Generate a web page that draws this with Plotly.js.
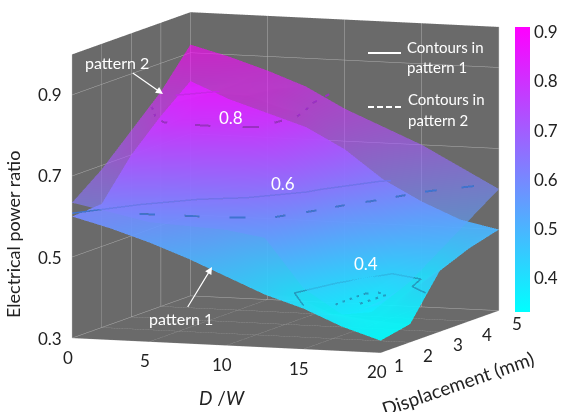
<!DOCTYPE html>
<html><head><meta charset="utf-8">
<script src="https://cdn.plot.ly/plotly-3.0.1.min.js"></script>
<style>html,body{margin:0;padding:0;background:#fff;} #chart{width:571px;height:412px;} #dbg{position:absolute;left:5px;top:5px;font:11px monospace;color:#c00;z-index:99;white-space:pre-wrap;width:560px}</style>
</head><body><div id="chart"></div><div id="dbg"></div>
<script>
const dbg = document.getElementById('dbg');
window.onerror = function(m, s, l, c, e){ dbg.textContent += 'ERR: ' + m + ' @' + l + '\n'; };
// ---- data ----
const dw = [0, 2.5, 5, 7.5, 10, 12.5, 15, 17.5, 20];
const displacement = [1, 2, 3, 4, 5];
// rows: displacement 1..5, columns: D/W
const pattern1 = [
  [0.600, 0.575, 0.545, 0.510, 0.470, 0.430, 0.400, 0.360, 0.330],
  [0.605, 0.600, 0.580, 0.550, 0.480, 0.400, 0.360, 0.350, 0.345],
  [0.700, 0.630, 0.610, 0.600, 0.550, 0.410, 0.380, 0.380, 0.450],
  [0.770, 0.720, 0.680, 0.660, 0.620, 0.500, 0.400, 0.410, 0.480],
  [0.830, 0.790, 0.760, 0.730, 0.680, 0.610, 0.560, 0.520, 0.500]
];
const pattern2 = [
  [0.634, 0.615, 0.595, 0.590, 0.585, 0.570, 0.450, 0.390, 0.420],
  [0.690, 0.770, 0.820, 0.830, 0.810, 0.700, 0.520, 0.370, 0.450],
  [0.760, 0.830, 0.860, 0.860, 0.830, 0.730, 0.620, 0.530, 0.500],
  [0.830, 0.850, 0.860, 0.850, 0.790, 0.720, 0.650, 0.590, 0.550],
  [0.920, 0.895, 0.865, 0.830, 0.780, 0.740, 0.700, 0.650, 0.600]
];
const contourLevels = [0.4, 0.6, 0.8];
const contourColors = ['#1f9fc6', '#3f73d0', '#9b2fc4'];
const xTicks = [0, 5, 10, 15, 20];
const yTicks = [1, 2, 3, 4, 5];
const zTicks = [0.3, 0.5, 0.7, 0.9];
const cbTicks = [0.4, 0.5, 0.6, 0.7, 0.8, 0.9];

// ---- contour extraction (marching squares on the data grid) ----
function contourLines(xs, ys, Z, lev) {
  const segs = [];
  for (let i = 0; i < ys.length - 1; i++) for (let j = 0; j < xs.length - 1; j++) {
    const c = [[xs[j], ys[i], Z[i][j]], [xs[j+1], ys[i], Z[i][j+1]], [xs[j+1], ys[i+1], Z[i+1][j+1]], [xs[j], ys[i+1], Z[i+1][j]]];
    const pts = [];
    for (let e = 0; e < 4; e++) {
      const a = c[e], b = c[(e+1) % 4];
      if ((a[2] < lev) !== (b[2] < lev)) {
        const t = (lev - a[2]) / (b[2] - a[2]);
        pts.push([a[0] + t*(b[0]-a[0]), a[1] + t*(b[1]-a[1])]);
      }
    }
    if (pts.length === 2) segs.push([pts[0], pts[1]]);
    else if (pts.length === 4) { segs.push([pts[0], pts[1]]); segs.push([pts[2], pts[3]]); }
  }
  const key = p => p[0].toFixed(5) + ',' + p[1].toFixed(5);
  const map = {};
  segs.forEach((s, idx) => s.forEach(p => { const k = key(p); (map[k] = map[k] || []).push(idx); }));
  const used = segs.map(() => false);
  const lines = [];
  for (let s = 0; s < segs.length; s++) {
    if (used[s]) continue;
    used[s] = true;
    const line = [segs[s][0], segs[s][1]];
    const extend = (atEnd) => {
      while (true) {
        const p = atEnd ? line[line.length-1] : line[0];
        const cand = (map[key(p)] || []).find(i => !used[i]);
        if (cand === undefined) break;
        used[cand] = true;
        const q = key(segs[cand][0]) === key(p) ? segs[cand][1] : segs[cand][0];
        if (atEnd) line.push(q); else line.unshift(q);
      }
    };
    extend(true); extend(false);
    lines.push(line);
  }
  return lines;
}
function contourTraces(Z, lev, color, dash) {
  const lift = dash === 'solid' ? 0.008 : 0.014;
  return contourLines(dw, displacement, Z, lev).map(line => ({
    type: 'scatter3d', mode: 'lines',
    x: line.map(p => p[0]), y: line.map(p => p[1]), z: line.map(() => lev + lift),
    showlegend: false, hoverinfo: 'skip',
    line: {color: color, width: dash === 'solid' ? 3 : 4, dash: dash}}));
}

const cool = [[0, 'rgb(0,255,255)'], [1, 'rgb(255,0,255)']];
const light = {ambient: 1.0, diffuse: 0.3, specular: 0.05, roughness: 0.8, fresnel: 0};
const FONT = 'Lato';
const DARK = '#222';

let traces = [
  {type: 'surface', x: dw, y: displacement, z: pattern1, colorscale: cool, cmin: 0.332, cmax: 0.91,
   opacity: 0.92, lighting: light, hoverinfo: 'skip', showscale: true,
   colorbar: {x: 515/571, xanchor: 'left', xpad: 0, ypad: 0, y: 1 - 169.5/412, yanchor: 'middle', len: 285, lenmode: 'pixels',
              thickness: 15, outlinewidth: 0, tickvals: cbTicks, ticks: '', ticklabelpad: 6,
              tickfont: {family: FONT, size: 17, color: DARK}}},
  {type: 'surface', x: dw, y: displacement, z: pattern2, colorscale: cool, cmin: 0.332, cmax: 0.91,
   opacity: 0.62, lighting: light, hoverinfo: 'skip', showscale: false}
];
try {
  contourLevels.forEach((lev, k) => {
    traces = traces.concat(contourTraces(pattern1, lev, contourColors[k], 'solid'));
    traces = traces.concat(contourTraces(pattern2, lev, contourColors[k], 'longdash'));
  });
} catch (e) { dbg.textContent += 'contour err ' + e + '\n'; }

const axisBase = {showbackground: true, backgroundcolor: '#6a6a6a', gridcolor: '#b0b0b0', gridwidth: 1,
  showline: false, zeroline: false, ticks: '', showspikes: false, title: {text: ''}, showticklabels: false};
const S = 1.8;
const ann = (x, y, text, size, extra) => Object.assign({xref: 'paper', yref: 'paper', x: x/571, y: 1 - y/412,
  xanchor: 'center', yanchor: 'middle',
  text: text, showarrow: false, font: {family: FONT, size: size, color: '#fff'}}, extra || {});
const tickFont = {family: FONT, size: 17, color: DARK};
const sceneAnn = [];
xTicks.forEach(v => sceneAnn.push({x: v, y: displacement[0], z: zTicks[0], text: String(v), showarrow: false,
  xshift: -4, yshift: -19, font: tickFont}));
yTicks.forEach(v => sceneAnn.push({x: dw[dw.length-1], y: v, z: zTicks[0], text: String(v), showarrow: false,
  xshift: 18, yshift: -13, font: tickFont}));
zTicks.forEach(v => sceneAnn.push({x: dw[0], y: displacement[0], z: v, text: v.toFixed(1), showarrow: false,
  xshift: -22, yshift: 0, font: tickFont}));

const layout = {
  width: 571, height: 412, margin: {l: 0, r: 0, t: 0, b: 0}, paper_bgcolor: '#fff', showlegend: false,
  hovermode: false,
  scene: {
    domain: {x: [0, 1], y: [0.114, 1]},
    aspectmode: 'manual', aspectratio: {x: 1*S, y: 1.048*S, z: 0.871*S},
    camera: {eye: {x: 0.3407*2, y: -0.9305*2, z: 0.1305*2}, up: {x: 0, y: 0, z: 1}, center: {x: 0, y: 0, z: 0},
             projection: {type: 'orthographic'}},
    xaxis: Object.assign({}, axisBase, {range: [0, 20], tickvals: xTicks}),
    yaxis: Object.assign({}, axisBase, {range: [1, 5], tickvals: yTicks}),
    zaxis: Object.assign({}, axisBase, {range: [0.3, 1.0], tickvals: zTicks}),
    annotations: sceneAnn
  },
  annotations: [
    ann(13, 235, 'Electrical power ratio', 18, {textangle: -90, font: {family: FONT, size: 18, color: DARK}}),
    ann(222, 397, '<i>D</i> /<i>W</i>', 19, {font: {family: FONT, size: 19, color: DARK}}),
    ann(457, 383, 'Displacement (mm)', 19, {textangle: -19, font: {family: FONT, size: 19, color: DARK}}),
    ann(231, 117, '0.8', 17), ann(283, 183, '0.6', 17), ann(366, 263, '0.4', 17),
    ann(405, 47, 'Contours in', 15, {xanchor: 'left'}), ann(405, 67, 'pattern 1', 15, {xanchor: 'left'}),
    ann(406, 99, 'Contours in', 15, {xanchor: 'left'}), ann(406, 120, 'pattern 2', 15, {xanchor: 'left'}),
    Object.assign(ann(163, 94, 'pattern 2', 16), {showarrow: true, ax: -46, ay: -32, arrowcolor: '#fff', arrowwidth: 1.2, arrowhead: 2, arrowsize: 1.2}),
    Object.assign(ann(212, 267, 'pattern 1', 16), {showarrow: true, ax: -31, ay: 51, arrowcolor: '#fff', arrowwidth: 1.2, arrowhead: 2, arrowsize: 1.2})
  ],
  shapes: [
    {type: 'line', xref: 'paper', yref: 'paper', x0: 368/571, x1: 401/571, y0: 1 - 53/412, y1: 1 - 53/412, line: {color: '#fff', width: 2}},
    {type: 'line', xref: 'paper', yref: 'paper', x0: 368/571, x1: 401/571, y0: 1 - 107/412, y1: 1 - 107/412, line: {color: '#fff', width: 2, dash: '6px,3px'}}
  ]
};
Plotly.newPlot('chart', traces, layout, {displayModeBar: false})
  .catch(e => { dbg.textContent += 'promise err ' + e + '\n'; });
</script>
</body></html>
